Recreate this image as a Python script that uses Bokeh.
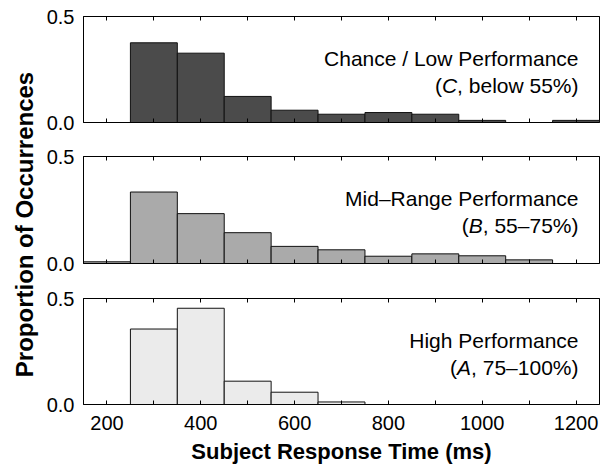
import math
from bokeh.plotting import figure
from bokeh.models import (Range1d, LinearAxis, FixedTicker, PrintfTickFormatter,
                          CustomJSTickFormatter, Label)
from bokeh.layouts import row, column
from bokeh.embed import file_html
from bokeh.resources import INLINE

# ---- data -------------------------------------------------------------
bin_left = [150, 250, 350, 450, 550, 650, 750, 850, 950, 1050, 1150]
bin_width = 100
low_perf = [0.0, 0.376, 0.327, 0.123, 0.058, 0.039, 0.047, 0.039, 0.010, 0.0, 0.010]
mid_perf = [0.008, 0.334, 0.233, 0.144, 0.080, 0.064, 0.034, 0.045, 0.036, 0.017, 0.0]
high_perf = [0.0, 0.356, 0.454, 0.110, 0.058, 0.012, 0.0, 0.0, 0.0, 0.0, 0.0]

x_ticks_major = [200, 400, 600, 800, 1000, 1200]
x_ticks_minor = [300, 500, 700, 900, 1100]
y_ticks = [0.0, 0.5]

panel_titles = ["Chance / Low Performance", "Mid\u2013Range Performance", "High Performance"]
panel_letters = ["C", "B", "A"]
panel_ranges = [", below 55%)", ", 55\u201375%)", ", 75\u2013100%)"]

x_label = "Subject Response Time (ms)"
y_label = "Proportion of Occurrences"

# ---- styling ------------------------------------------------------------
FONT = "Liberation Sans"
fills = ["#4b4b4b", "#aaaaaa", "#ebebeb"]
TICK_FS = "20px"
XLAB_FS = "22px"
YLAB_FS = "24px"
ANN_FS = 21
# approximate Arial/Liberation advance widths (em) for right-aligned pieces
W = {",": .278, " ": .278, "b": .556, "e": .556, "l": .222, "o": .556, "w": .722,
     "5": .556, "7": .556, "1": .556, "0": .556, "%": .889, ")": .333,
     "\u2013": .556, "C": .722, "B": .667, "A": .667}


def text_w(s):
    return sum(W.get(c, .556) for c in s) * ANN_FS


ylab_w = 43
fig_w = 562
border_l, border_r = 40, 6
heights = [139, 141, 187]
tops = [16, 17, 18]
bottoms = [17, 17, 63]
right_pad = 21
line1_dy, line2_dy = 42, 69

panels = []
for i, vals in enumerate([low_perf, mid_perf, high_perf]):
    last = i == 2
    p = figure(width=fig_w, height=heights[i], x_range=Range1d(150, 1250),
               y_range=Range1d(0, 0.5), output_backend="svg", toolbar_location=None,
               min_border_left=border_l, min_border_right=border_r,
               min_border_top=tops[i], min_border_bottom=bottoms[i],
               x_axis_location=None, y_axis_location=None)
    p.grid.visible = False
    p.outline_line_color = "black"
    p.outline_line_width = 1
    p.background_fill_color = "white"
    p.border_fill_color = "white"

    lefts = [b for b, v in zip(bin_left, vals) if v > 0]
    rights = [b + bin_width for b, v in zip(bin_left, vals) if v > 0]
    tops_v = [v for v in vals if v > 0]
    p.quad(left=lefts, right=rights, top=tops_v, bottom=0,
           fill_color=fills[i], line_color="#111111", line_width=1)

    empty = CustomJSTickFormatter(code="return ''")
    xt = dict(major_tick_in=4, major_tick_out=0, minor_tick_in=4, minor_tick_out=0,
              major_tick_line_color="black", minor_tick_line_color="black",
              axis_line_color="black")
    below = LinearAxis(ticker=FixedTicker(ticks=x_ticks_major, minor_ticks=x_ticks_minor),
                       **xt)
    if last:
        below.major_label_text_font = FONT
        below.major_label_text_font_size = TICK_FS
        below.major_label_text_color = "black"
        below.major_label_standoff = 11
        below.axis_label = x_label
        below.axis_label_text_font = FONT
        below.axis_label_text_font_style = "bold"
        below.axis_label_text_font_size = XLAB_FS
        below.axis_label_text_color = "black"
        below.axis_label_standoff = 6
    else:
        below.formatter = empty
        below.major_label_standoff = 0
        below.major_label_text_font_size = "1px"
    p.add_layout(below, "below")

    above = LinearAxis(ticker=FixedTicker(ticks=x_ticks_major, minor_ticks=x_ticks_minor),
                       formatter=CustomJSTickFormatter(code="return ''"),
                       major_label_standoff=0, major_label_text_font_size="1px", **xt)
    p.add_layout(above, "above")

    left = LinearAxis(ticker=FixedTicker(ticks=y_ticks),
                      formatter=PrintfTickFormatter(format="%.1f"),
                      major_tick_in=0, major_tick_out=0, minor_tick_in=0, minor_tick_out=0,
                      axis_line_color="black", major_label_standoff=9,
                      major_label_text_font=FONT, major_label_text_font_size=TICK_FS,
                      major_label_text_color="black")
    p.add_layout(left, "left")

    frame_h = heights[i] - tops[i] - bottoms[i]
    y1 = 0.5 - line1_dy / frame_h * 0.5
    y2 = 0.5 - line2_dy / frame_h * 0.5
    common = dict(x=1250, text_font=FONT, text_font_size=f"{ANN_FS}px",
                  text_align="right", text_baseline="alphabetic", text_color="black")
    p.add_layout(Label(y=y1, x_offset=-right_pad, text=panel_titles[i], **common))
    post = panel_ranges[i]
    w_post = text_w(post)
    w_it = text_w(panel_letters[i])
    p.add_layout(Label(y=y2, x_offset=-right_pad, text=post, **common))
    p.add_layout(Label(y=y2, x_offset=-right_pad - w_post, text=panel_letters[i],
                       text_font_style="italic", **common))
    p.add_layout(Label(y=y2, x_offset=-right_pad - w_post - w_it, text="(", **common))
    panels.append(p)

total_h = sum(heights)
ylab = figure(width=ylab_w, height=total_h, x_range=Range1d(0, 1), y_range=Range1d(0, 1),
              output_backend="svg", toolbar_location=None, min_border=0,
              x_axis_location=None, y_axis_location=None)
ylab.grid.visible = False
ylab.outline_line_color = None
ylab.add_layout(Label(x=24 / ylab_w, y=(total_h - 224) / total_h, text=y_label,
                      angle=math.pi / 2, text_align="center", text_baseline="middle",
                      text_font=FONT, text_font_style="bold", text_font_size=YLAB_FS,
                      text_color="black"))

layout = row(ylab, column(*panels))
open("out.html", "w").write(file_html(layout, INLINE))
